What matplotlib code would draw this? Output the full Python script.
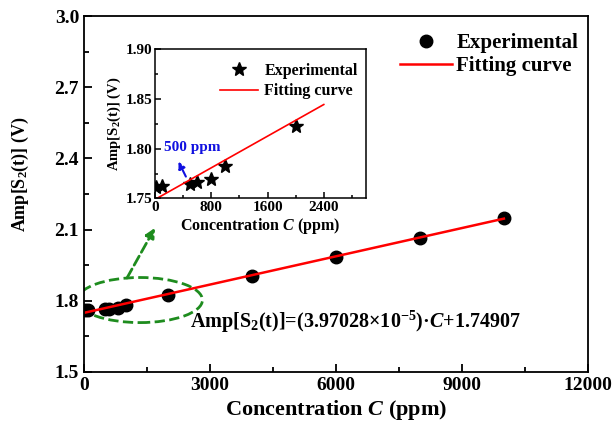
import matplotlib
matplotlib.use("Agg")
import matplotlib.pyplot as plt
from matplotlib.patches import Ellipse
from matplotlib.ticker import MultipleLocator, FormatStrFormatter

plt.rcParams["font.family"] = "Liberation Serif"
plt.rcParams["font.weight"] = "bold"
plt.rcParams["mathtext.fontset"] = "custom"
plt.rcParams["mathtext.rm"] = "Liberation Serif:bold"
plt.rcParams["mathtext.bf"] = "Liberation Serif:bold"
plt.rcParams["mathtext.it"] = "Liberation Serif:italic:bold"

# measured data (ppm, V)
conc = [20, 100, 500, 600, 800, 1000, 2000, 4000, 6000, 8000, 10000]
amp = [1.762, 1.763, 1.765, 1.767, 1.770, 1.783, 1.8225, 1.905, 1.985, 2.066, 2.149]
inset_conc = conc[:7]
inset_amp = amp[:7]

# linear fit
slope = 3.97028e-5
intercept = 1.74907
fit_main_x = [0, 10000]
fit_inset_x = [0, 2400]

fig = plt.figure(figsize=(6.13, 4.33), dpi=100)
ax = fig.add_axes([0.137, 0.141, 0.822, 0.822])

ax.plot(conc, amp, "o", color="black", ms=9, ls="none", label="Experimental")
ax.plot(fit_main_x, [intercept + slope * x for x in fit_main_x], color="red",
        lw=1.8, label="Fitting curve")
ax.set_xlim(0, 12000)
ax.set_ylim(1.5, 3.0)
ax.xaxis.set_major_locator(MultipleLocator(3000))
ax.xaxis.set_minor_locator(MultipleLocator(1500))
ax.yaxis.set_major_locator(MultipleLocator(0.3))
ax.yaxis.set_minor_locator(MultipleLocator(0.15))
ax.tick_params(which="both", direction="in", width=1.3, labelsize=14)
ax.tick_params(which="major", length=6)
ax.tick_params(which="minor", length=3.5)
for s in ax.spines.values():
    s.set_linewidth(1.3)
ax.set_xlabel("Concentration $\\it{C}$ (ppm)", fontsize=16, fontweight="bold", labelpad=3)
ax.set_ylabel("Amp[S$_2$(t)] (V)", fontsize=13, fontweight="bold")
ax.yaxis.set_label_coords(-0.105, 0.556)
ax.legend(loc="upper right", bbox_to_anchor=(1.012, 0.995), frameon=False, fontsize=15,
          handlelength=2.5, borderaxespad=0.35, labelspacing=0.12, handletextpad=0.2)

ax.text(0.21, 0.14, "Amp[S$_2$(t)]=(3.97028×10$^{-5}$)·$\\it{C}$+1.74907",
        transform=ax.transAxes, fontsize=14.5, fontweight="bold", va="center")

ax.add_patch(Ellipse((1333, 1.803), 2976, 0.19, fill=False, ec="#1e8c1e",
                     lw=2, ls="--"))
ax.annotate("", xy=(1690, 2.107), xytext=(1024, 1.896),
            arrowprops=dict(arrowstyle="-|>", color="#1e8c1e", lw=2, ls="--",
                            mutation_scale=14, shrinkA=0, shrinkB=0))

# inset
ins = fig.add_axes([0.253, 0.5416, 0.344, 0.345])
ins.plot(inset_conc, inset_amp, "*", color="black", ms=10, ls="none", label="Experimental")
ins.plot(fit_inset_x, [intercept + slope * x for x in fit_inset_x], color="red",
         lw=1.2, label="Fitting curve")
ins.set_xlim(0, 3000)
ins.set_ylim(1.75, 1.90)
ins.xaxis.set_major_locator(MultipleLocator(800))
ins.xaxis.set_minor_locator(MultipleLocator(400))
ins.yaxis.set_major_locator(MultipleLocator(0.05))
ins.yaxis.set_minor_locator(MultipleLocator(0.025))
ins.yaxis.set_major_formatter(FormatStrFormatter("%.2f"))
ins.tick_params(which="both", direction="in", width=1.1, labelsize=11, pad=2)
ins.tick_params(which="major", length=4)
ins.tick_params(which="minor", length=2.5)
for s in ins.spines.values():
    s.set_linewidth(1.1)
ins.set_xlabel("Concentration $\\it{C}$ (ppm)", fontsize=11.5, fontweight="bold", labelpad=1)
ins.set_ylabel("Amp[S$_2$(t)] (V)", fontsize=10.5, fontweight="bold", labelpad=2)
ins.legend(loc="upper right", bbox_to_anchor=(1.025, 1.0), frameon=False, fontsize=11.5,
           handlelength=2.4, borderaxespad=0.45, labelspacing=0.3, handletextpad=0.4)
ins.text(133, 1.801, "500 ppm", color="#1010e0", fontsize=11, fontweight="bold", va="center")
ins.annotate("", xy=(333, 1.787), xytext=(438, 1.772),
             arrowprops=dict(arrowstyle="-|>", color="#1010e0", lw=1.5, ls="--",
                             mutation_scale=10, shrinkA=0, shrinkB=0))

fig.savefig("out.png", dpi=100)
